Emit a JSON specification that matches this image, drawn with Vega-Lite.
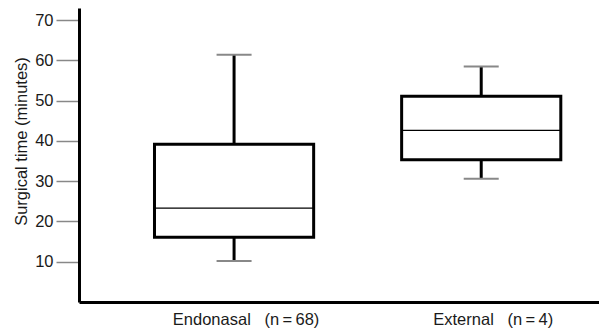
{
  "$schema": "https://vega.github.io/schema/vega-lite/v6.json",
  "width": 520,
  "height": 294,
  "autosize": {"type": "none"},
  "padding": {"left": 79, "top": 8, "right": 0, "bottom": 33},
  "background": "white",
  "config": {
    "view": {"stroke": null},
    "font": "Liberation Sans",
    "axis": {"grid": false, "labelFont": "Liberation Sans", "titleFont": "Liberation Sans", "labelColor": "#1a1a1a", "titleColor": "#1a1a1a", "labelFontSize": 16.5, "titleFontSize": 16.5, "titleFontWeight": "normal", "domainColor": "black", "domainWidth": 3}
  },
  "data": {
    "values": [
      {"group": "Endonasal\u00a0\u00a0\u00a0(n\u2009=\u200968)", "min": 10.2, "q1": 16.1, "median": 23.3, "q3": 39.2, "max": 61.4},
      {"group": "External\u00a0\u00a0\u00a0(n\u2009=\u20094)", "min": 30.6, "q1": 35.3, "median": 42.6, "q3": 51.1, "max": 58.5}
    ]
  },
  "encoding": {
    "x": {
      "field": "group",
      "type": "nominal",
      "sort": null,
      "scale": {"paddingInner": 0.356, "paddingOuter": 0.23, "align": 0.664},
      "axis": {"title": null, "labelAngle": 0, "ticks": false, "labelPadding": 9, "labelOffset": 12}
    }
  },
  "layer": [
    {
      "mark": {"type": "rule", "color": "black", "strokeWidth": 3},
      "encoding": {
        "y": {
          "field": "min",
          "type": "quantitative",
          "scale": {"domain": [0, 73], "nice": false},
          "axis": {"title": "Surgical time (minutes)", "values": [10, 20, 30, 40, 50, 60, 70], "tickColor": "#888", "tickSize": 23, "tickWidth": 1.5, "labelPadding": 3, "titlePadding": 5, "titleY": 133}
        },
        "y2": {"field": "max"}
      }
    },
    {
      "mark": {"type": "bar", "fill": "white", "stroke": "black", "strokeWidth": 3},
      "encoding": {
        "y": {"field": "q1", "type": "quantitative"},
        "y2": {"field": "q3"}
      }
    },
    {
      "mark": {"type": "tick", "color": "black", "size": 159, "thickness": 1.3, "opacity": 1},
      "encoding": {"y": {"field": "median", "type": "quantitative"}}
    },
    {
      "mark": {"type": "tick", "color": "#888", "size": 35, "thickness": 2, "opacity": 1},
      "encoding": {"y": {"field": "min", "type": "quantitative"}}
    },
    {
      "mark": {"type": "tick", "color": "#888", "size": 35, "thickness": 2, "opacity": 1},
      "encoding": {"y": {"field": "max", "type": "quantitative"}}
    }
  ]
}
